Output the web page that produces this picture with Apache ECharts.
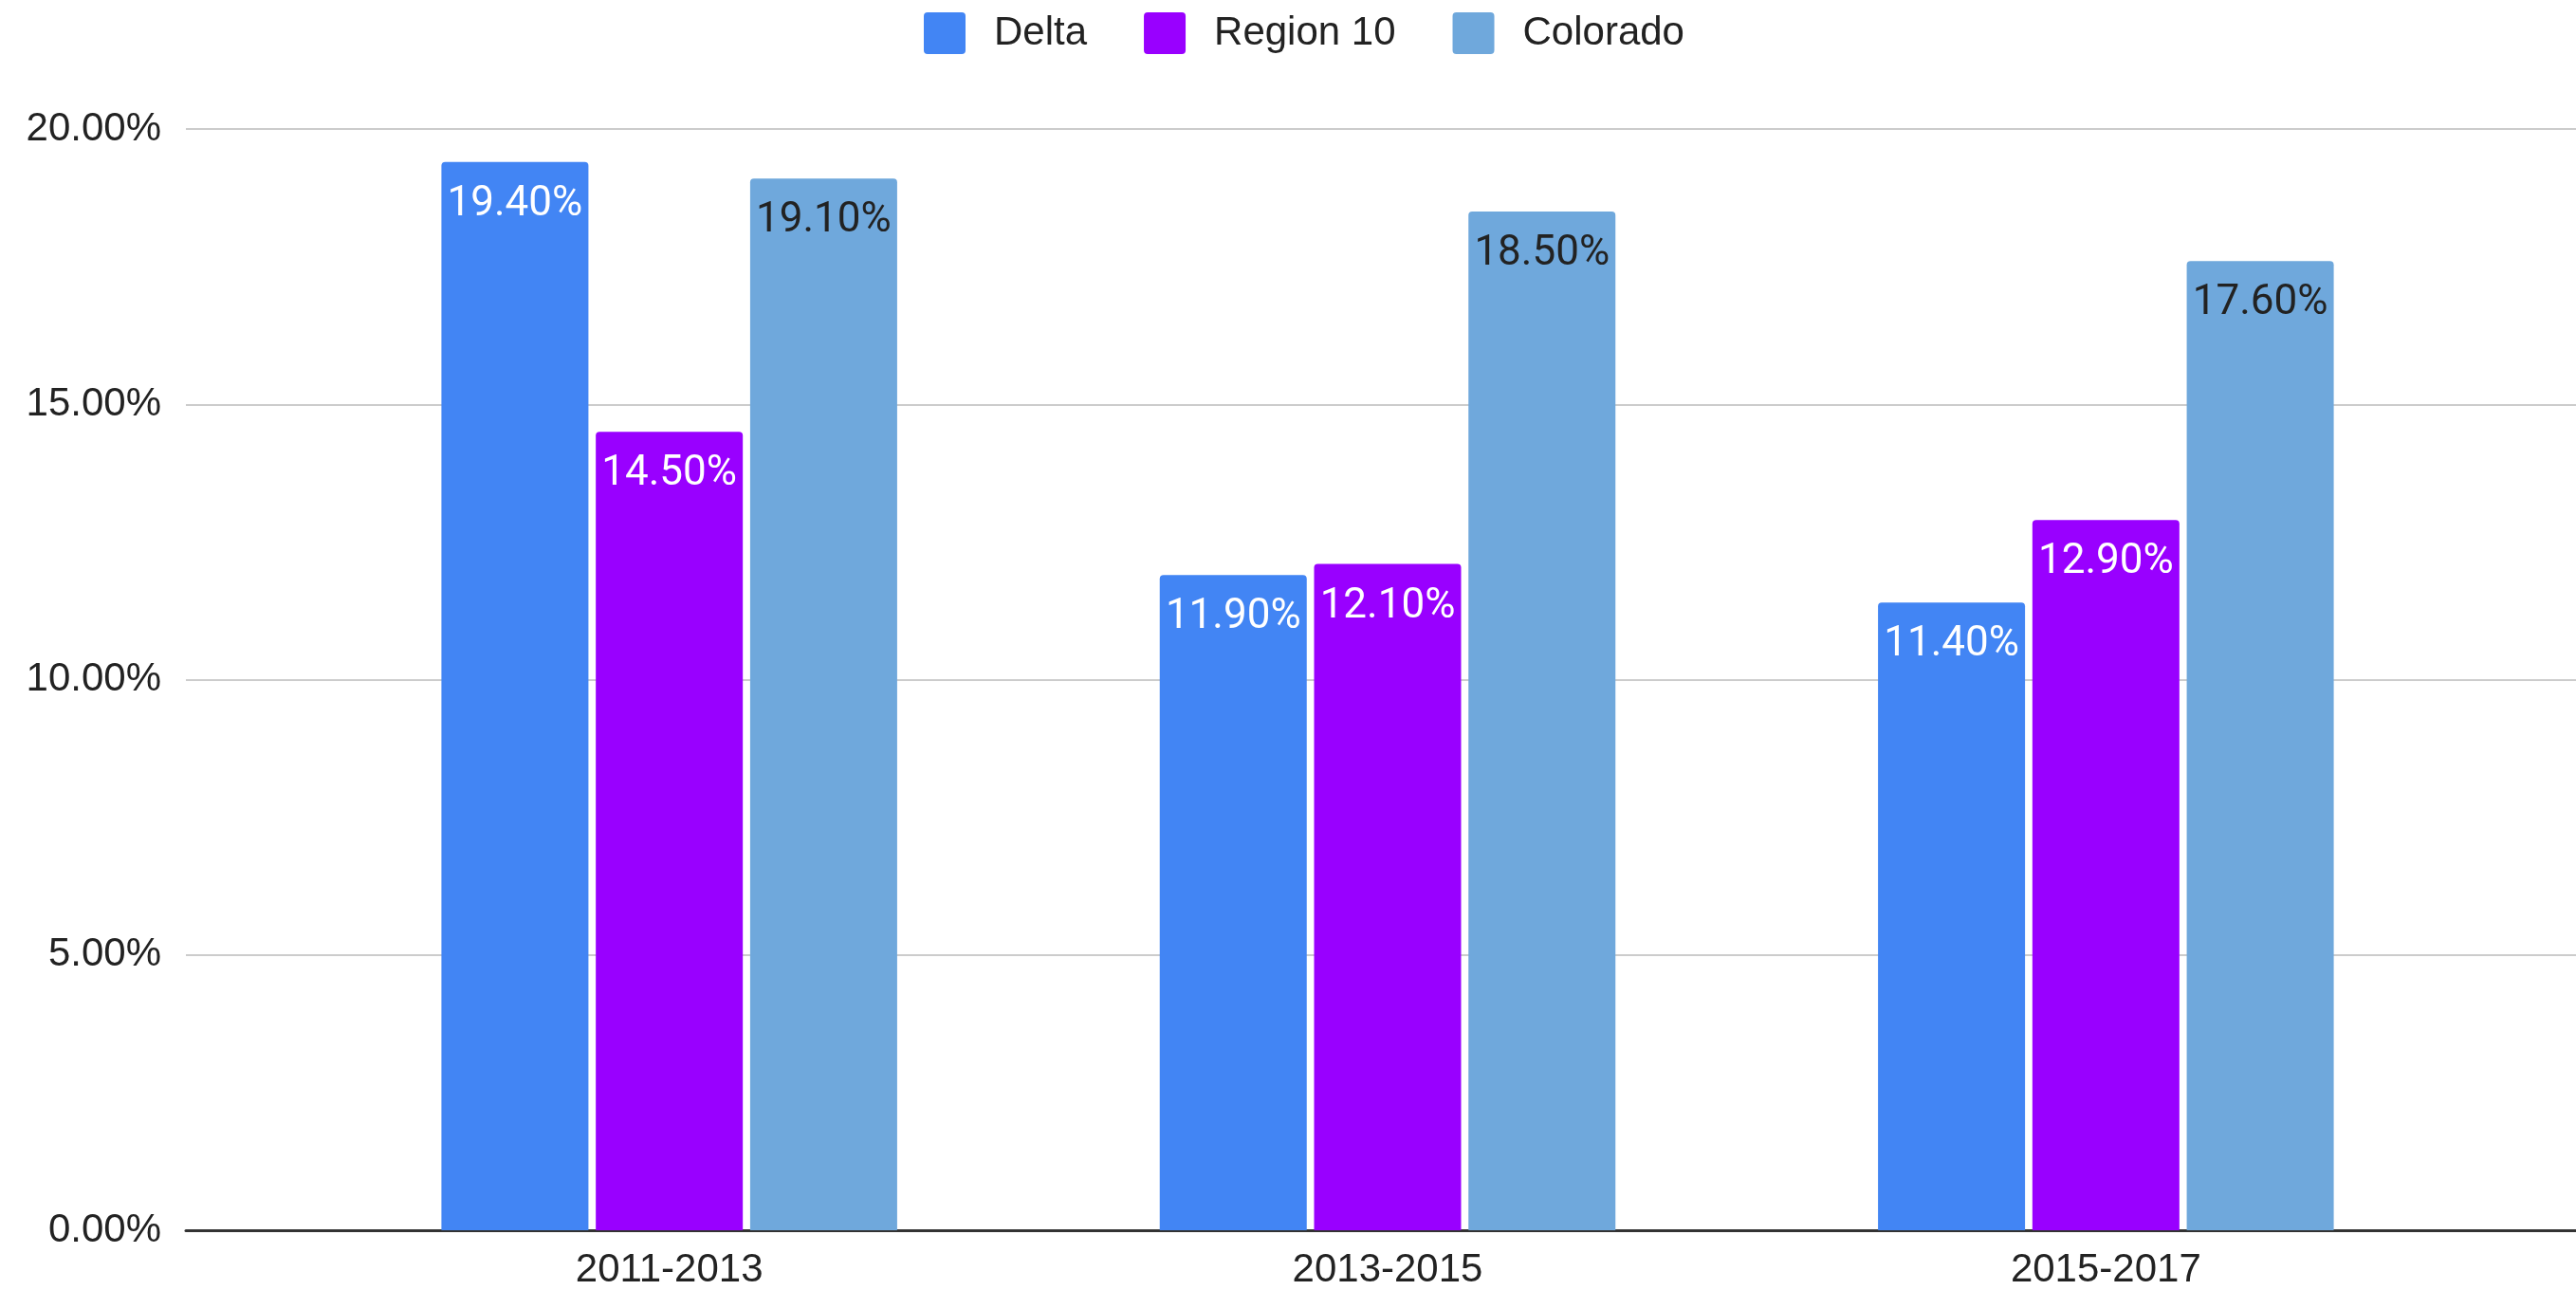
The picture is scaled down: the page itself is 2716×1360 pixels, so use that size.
<!DOCTYPE html>
<html>
<head>
<meta charset="utf-8">
<script src="https://cdn.jsdelivr.net/npm/echarts@6/dist/echarts.min.js"></script>
<style>
  html, body { margin: 0; padding: 0; background: #fff; }
  #myChart { width: 2716px; height: 1360px; }
</style>
</head>
<body>
<div id="myChart"></div>
<script>
// 数据
var periods = ["2011-2013", "2013-2015", "2015-2017"];
var delta = [19.4, 11.9, 11.4];
var region10 = [14.5, 12.1, 12.9];
var colorado = [19.1, 18.5, 17.6];
var yTicks = { min: 0, max: 20, interval: 5 };

var axisFont = "'Liberation Sans', Arial, sans-serif";
var labelFont = "Roboto, 'Liberation Sans', sans-serif";
var legendIcon = "path://M4,0 H40 A4,4 0 0 1 44,4 V40 A4,4 0 0 1 40,44 H4 A4,4 0 0 1 0,40 V4 A4,4 0 0 1 4,0 Z";

function pct(v) {
  return v.toFixed(2) + "%";
}

function barSeries(name, data, color, textColor) {
  return {
    name: name,
    type: "bar",
    xAxisIndex: 1,
    yAxisIndex: 1,
    data: data,
    barWidth: 155,
    barGap: "5%",
    itemStyle: { color: color, borderRadius: [4, 4, 0, 0] },
    label: {
      show: true,
      position: "insideTop",
      distance: 23,
      color: textColor,
      fontFamily: labelFont,
      fontSize: 44,
      formatter: function (p) { return pct(p.value); }
    }
  };
}

var myChart = echarts.init(document.getElementById("myChart"));
myChart.setOption({
  animation: false,
  backgroundColor: "#fff",
  legend: {
    left: 974,
    top: 13,
    padding: 0,
    itemWidth: 44,
    itemHeight: 44,
    itemGap: 60,
    icon: legendIcon,
    textStyle: {
      fontFamily: axisFont,
      fontSize: 42,
      color: "#222",
      padding: [0, 0, 0, 25]
    },
    data: ["Delta", "Region 10", "Colorado"]
  },
  grid: [
    { left: 196, right: 0, top: 136, bottom: 63 },
    { left: 327, right: 117, top: 136, bottom: 63 }
  ],
  xAxis: [
    {
      gridIndex: 0,
      type: "value",
      min: 0,
      max: 1,
      axisLine: { show: true, lineStyle: { color: "#333", width: 3 } },
      axisTick: { show: false },
      axisLabel: { show: false },
      splitLine: { show: false }
    },
    {
      gridIndex: 1,
      type: "category",
      data: periods,
      axisLine: { show: false },
      axisTick: { show: false },
      axisLabel: {
        margin: 21,
        fontFamily: axisFont,
        fontSize: 42,
        color: "#222"
      }
    }
  ],
  yAxis: [
    {
      gridIndex: 0,
      type: "value",
      min: yTicks.min,
      max: yTicks.max,
      interval: yTicks.interval,
      axisLine: { show: false },
      axisTick: { show: false },
      axisLabel: {
        margin: 26,
        fontFamily: axisFont,
        fontSize: 42,
        color: "#222",
        formatter: function (v) { return pct(v); }
      },
      splitLine: { lineStyle: { color: "#ccc", width: 2 } }
    },
    {
      gridIndex: 1,
      type: "value",
      min: yTicks.min,
      max: yTicks.max,
      interval: yTicks.interval,
      show: false,
      splitLine: { show: false }
    }
  ],
  series: [
    barSeries("Delta", delta, "#4285F4", "#fff"),
    barSeries("Region 10", region10, "#9900FF", "#fff"),
    barSeries("Colorado", colorado, "#6FA8DC", "#222")
  ]
});
</script>
</body>
</html>
